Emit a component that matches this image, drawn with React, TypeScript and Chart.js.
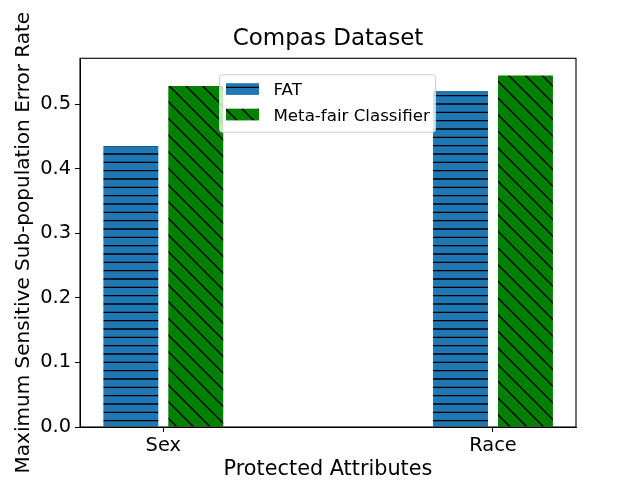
import { useEffect, useRef } from 'react'
import { Chart, registerables } from 'chart.js'

Chart.register(...registerables)

const categories = ['Sex', 'Race']
const fatValues = [0.435, 0.52]
const metaFairValues = [0.528, 0.544]
const seriesLabels = ['FAT', 'Meta-fair Classifier']
const yTickValues = [0, 0.1, 0.2, 0.3, 0.4, 0.5]

const FONT = "'DejaVu Sans', sans-serif"

// matplotlib-like hatch fill, anchored to the canvas origin
const makeHatch = (ctx: CanvasRenderingContext2D, base: string, kind: 'horizontal' | 'backslash') => {
  const tile = document.createElement('canvas')
  const size = kind === 'horizontal' ? 25 : 50
  tile.width = size
  tile.height = size
  const g = tile.getContext('2d')!
  g.fillStyle = base
  g.fillRect(0, 0, size, size)
  g.strokeStyle = '#000'
  g.lineWidth = 1.4
  g.beginPath()
  if (kind === 'horizontal') {
    for (let k = 0; k < 3; k++) {
      const y = 4 + (k * 25) / 3
      g.moveTo(0, y)
      g.lineTo(size, y)
    }
  } else {
    const step = 50 / 3
    for (let k = -4; k <= 4; k++) {
      g.moveTo(k * step - 10, -10)
      g.lineTo(k * step + 60, 60)
    }
  }
  g.stroke()
  return ctx.createPattern(tile, 'repeat')!
}

const framePlugin = {
  id: 'frame',
  afterDatasetsDraw(chart: Chart) {
    const { ctx, chartArea: a } = chart
    ctx.save()
    ctx.strokeStyle = '#000'
    ctx.lineWidth = 1.1
    ctx.strokeRect(a.left, a.top, a.right - a.left, a.bottom - a.top)
    ctx.restore()
  },
}

const boxLegendPlugin = {
  id: 'boxLegend',
  afterDraw(chart: Chart) {
    const { ctx, chartArea: a } = chart
    const x = a.left + 139.5
    const y = a.top + 16.4
    const w = 216
    const h = 57.5
    ctx.save()
    ctx.beginPath()
    ctx.roundRect(x, y, w, h, 3)
    ctx.fillStyle = 'rgba(255,255,255,0.8)'
    ctx.fill()
    ctx.strokeStyle = '#cccccc'
    ctx.lineWidth = 1
    ctx.stroke()
    ctx.font = `16.67px ${FONT}`
    ctx.textBaseline = 'alphabetic'
    ctx.textAlign = 'left'
    chart.data.datasets.forEach((ds, i) => {
      const rowY = y + 8.5 + i * 25.5
      ctx.fillStyle = ds.backgroundColor as any
      ctx.fillRect(x + 6.5, rowY, 33, 11.7)
      ctx.fillStyle = '#000'
      ctx.fillText(String(ds.label), x + 54, rowY + 11.9)
    })
    ctx.restore()
  },
}

export default function App() {
  const canvasRef = useRef<HTMLCanvasElement | null>(null)
  const chartRef = useRef<Chart | null>(null)

  useEffect(() => {
    if (!canvasRef.current) return
    const ctx = canvasRef.current.getContext('2d')!
    Chart.defaults.font.family = FONT
    Chart.defaults.color = '#000'

    const fatFill = makeHatch(ctx, '#1f77b4', 'horizontal')
    const metaFill = makeHatch(ctx, '#008000', 'backslash')

    chartRef.current = new Chart(ctx, {
      type: 'bar',
      data: {
        datasets: [
          {
            label: seriesLabels[0],
            data: categories.map((_, i) => ({ x: i, y: fatValues[i] })),
            backgroundColor: fatFill as any,
            borderWidth: 0,
            barPercentage: 0.846,
            categoryPercentage: 0.394,
          },
          {
            label: seriesLabels[1],
            data: categories.map((_, i) => ({ x: i, y: metaFairValues[i] })),
            backgroundColor: metaFill as any,
            borderWidth: 0,
            barPercentage: 0.846,
            categoryPercentage: 0.394,
          },
        ],
      },
      options: {
        animation: false,
        responsive: true,
        maintainAspectRatio: false,
        events: [],
        layout: { padding: { left: 0, right: 64, top: 0, bottom: 0 } },
        plugins: {
          legend: { display: false },
          tooltip: { enabled: false },
          title: {
            display: true,
            fullSize: false,
            text: 'Compas Dataset',
            color: '#000',
            font: { size: 23, weight: 'normal', family: FONT },
            padding: { top: 25, bottom: 5.7 },
          },
        },
        scales: {
          x: {
            type: 'linear',
            min: -0.2527,
            max: 1.2518,
            offset: false,
            afterBuildTicks: (s: any) => {
              s.ticks = categories.map((_, i) => ({ value: i }))
            },
            afterFit: (s: any) => {
              s.height = 53
            },
            ticks: {
              callback: (v: any) => categories[Math.round(Number(v))] ?? '',
              font: { size: 19.4 },
              color: '#000',
              padding: 2,
              maxRotation: 0,
              autoSkip: false,
            },
            grid: { offset: false, drawOnChartArea: false, drawTicks: true, tickLength: 5, color: '#000' },
            border: { display: true, color: '#000', width: 1 },
            title: {
              display: true,
              text: 'Protected Attributes',
              color: '#000',
              font: { size: 20.8, lineHeight: 1 },
              padding: { top: 0, bottom: 0 },
            },
          },
          y: {
            min: 0,
            max: 0.5708,
            afterBuildTicks: (s: any) => {
              s.ticks = yTickValues.map((v) => ({ value: v }))
            },
            afterFit: (s: any) => {
              s.width = 80
            },
            ticks: {
              callback: (v: any) => Number(v).toFixed(1),
              font: { size: 19.4 },
              color: '#000',
              padding: 4,
            },
            grid: { drawOnChartArea: false, drawTicks: true, tickLength: 5, color: '#000' },
            border: { display: true, color: '#000', width: 1 },
            title: {
              display: true,
              text: 'Maximum Sensitive Sub-population Error Rate',
              color: '#000',
              font: { size: 20 },
              padding: { top: 11.5, bottom: 0 },
            },
          },
        },
      },
      plugins: [framePlugin, boxLegendPlugin],
    })

    return () => {
      chartRef.current?.destroy()
    }
  }, [])

  return (
    <div style={{ position: 'absolute', left: 0, top: 0, width: 640, height: 480, background: '#fff' }}>
      <canvas ref={canvasRef} />
    </div>
  )
}
